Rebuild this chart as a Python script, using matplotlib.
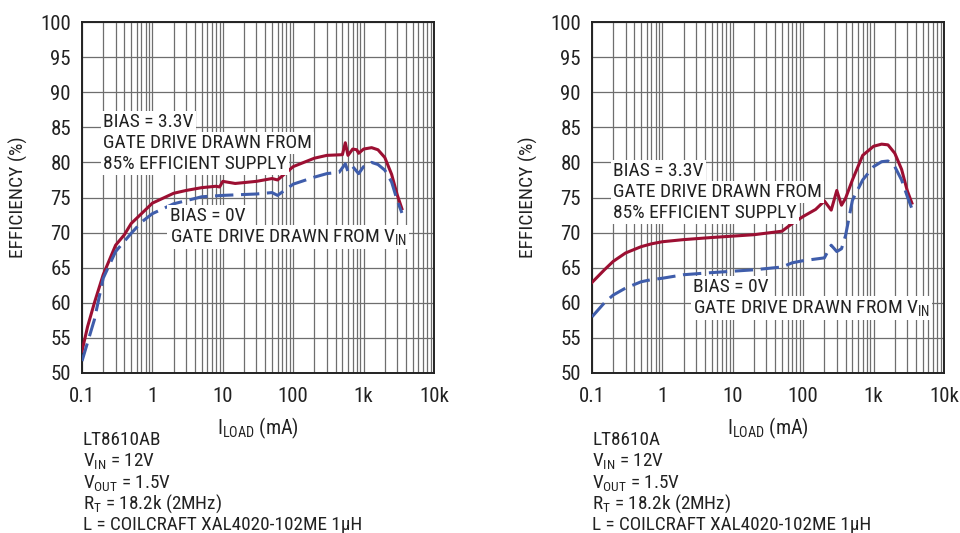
import matplotlib
matplotlib.use('Agg')
import matplotlib.pyplot as plt
from matplotlib.ticker import LogLocator, FixedLocator, NullFormatter

plt.rcParams['font.family'] = ['Roboto Condensed', 'DejaVu Sans']
plt.rcParams['font.stretch'] = 'condensed'
plt.rcParams['mathtext.default'] = 'regular'

# LT8610AB (left)
ab_red_x = [0.1, 0.12, 0.15, 0.2, 0.3, 0.4, 0.5, 0.7, 1, 2, 3, 5, 8, 9, 10, 15, 30, 50, 60,
            100, 200, 300, 500, 550, 600, 700, 800, 850, 1000, 1300, 1600, 2000, 2500, 3000, 3500]
ab_red_y = [53.1, 56.6, 60.0, 64.0, 68.2, 69.7, 71.3, 72.7, 74.2, 75.6, 76.0, 76.4, 76.6, 76.5, 77.3, 77.0, 77.3, 77.7, 77.5,
            79.4, 80.6, 81.0, 81.1, 82.8, 81.0, 81.9, 81.8, 81.3, 81.9, 82.1, 81.8, 80.7, 78.3, 75.4, 73.4]
ab_blue_x = [0.1, 0.15, 0.2, 0.3, 0.5, 0.7, 1, 2, 5, 10, 30, 50, 60,
             100, 200, 300, 450, 550, 600, 700, 850, 1000, 1300, 1600, 2000, 2500, 3000, 3500]
ab_blue_y = [51.7, 57.6, 63.5, 67.3, 69.9, 71.5, 72.7, 74.1, 75.1, 75.3, 75.5, 75.7, 75.3,
             76.9, 77.9, 78.4, 78.6, 79.8, 78.7, 79.4, 78.4, 79.4, 80.0, 79.7, 78.9, 77.2, 74.6, 72.8]

# LT8610A (right)
a_red_x = [0.1, 0.15, 0.2, 0.3, 0.5, 0.7, 1, 2, 5, 10, 20, 50, 70, 100, 150, 200, 250, 300, 350, 400,
           500, 700, 1000, 1300, 1600, 2000, 2500, 3000, 3500]
a_red_y = [62.9, 64.7, 65.9, 67.1, 68.0, 68.4, 68.7, 69.0, 69.3, 69.5, 69.7, 70.2, 71.3, 72.3, 73.3, 74.5, 73.2, 76.0, 73.9, 74.9,
           77.5, 81.0, 82.3, 82.6, 82.5, 81.3, 79.0, 76.0, 74.2]
a_blue_x = [0.1, 0.15, 0.2, 0.3, 0.5, 0.7, 1, 2, 5, 10, 20, 50, 70, 100, 200, 250, 300, 350, 400,
            500, 700, 1000, 1300, 1600, 2000, 2500, 3000, 3500]
a_blue_y = [58.0, 60.0, 61.1, 62.1, 63.0, 63.3, 63.5, 64.0, 64.3, 64.5, 64.7, 65.1, 65.7, 66.0, 66.4, 68.2, 67.3, 67.7, 69.6,
            74.6, 77.5, 79.4, 80.1, 80.2, 79.4, 77.5, 75.2, 73.4]

x_ticks = [0.1, 1, 10, 100, 1000, 10000]
x_ticklabels = ['0.1', '1', '10', '100', '1k', '10k']
y_ticks = list(range(50, 101, 5))

notes_ab = ['LT8610AB', 'V$_{IN}$ = 12V', 'V$_{OUT}$ = 1.5V', 'R$_{T}$ = 18.2k (2MHz)',
            'L = COILCRAFT XAL4020-102ME 1µH']
notes_a = ['LT8610A', 'V$_{IN}$ = 12V', 'V$_{OUT}$ = 1.5V', 'R$_{T}$ = 18.2k (2MHz)',
           'L = COILCRAFT XAL4020-102ME 1µH']

red = '#9c0f32'
blue = '#3f5dab'
grid_c = '#6e6e6e'
txt_c = '#222222'

fig = plt.figure(figsize=(9.6, 5.33), dpi=100)
ax1 = fig.add_axes([82/960, 1-373/533, 352/960, 351/533])
ax2 = fig.add_axes([592/960, 1-373/533, 352/960, 351/533])


def setup(ax):
    ax.set_xscale('log')
    ax.set_xlim(0.1, 10000)
    ax.set_ylim(50, 100)
    ax.xaxis.set_major_locator(FixedLocator(x_ticks))
    ax.xaxis.set_minor_locator(LogLocator(base=10, subs=range(2, 10), numticks=20))
    ax.xaxis.set_minor_formatter(NullFormatter())
    ax.set_xticklabels(x_ticklabels)
    ax.set_yticks(y_ticks)
    ax.grid(True, which='major', color=grid_c, lw=0.9)
    ax.grid(True, which='minor', axis='x', color=grid_c, lw=0.9)
    ax.tick_params(which='both', length=0, labelsize=15, colors=txt_c)
    ax.tick_params(axis='x', pad=10)
    ax.tick_params(axis='y', pad=8)
    for s in ax.spines.values():
        s.set_linewidth(1.4)
        s.set_color(txt_c)
    ax.set_xlabel('I$_{LOAD}$ (mA)', fontsize=14.5, color=txt_c)
    ax.set_ylabel('EFFICIENCY (%)', fontsize=14, color=txt_c)
    ax.xaxis.set_label_coords(0.5, -0.122)
    ax.yaxis.set_label_coords(-0.153, 0.5)


for ax in (ax1, ax2):
    setup(ax)

ax1.plot(ab_red_x, ab_red_y, color=red, lw=2.2, zorder=3)
ax1.plot(ab_blue_x, ab_blue_y, color=blue, lw=2.2, dashes=(6, 2.5), zorder=3)
ax2.plot(a_red_x, a_red_y, color=red, lw=2.2, zorder=3)
ax2.plot(a_blue_x, a_blue_y, color=blue, lw=2.2, dashes=(6, 2.5), zorder=3)

box = dict(facecolor='white', edgecolor='none', pad=1.5)
fs = 14
ax1.text(0.2, 85.8, 'BIAS = 3.3V', fontsize=fs, color=txt_c, bbox=box, va='center', zorder=4)
ax1.text(0.2, 82.8, 'GATE DRIVE DRAWN FROM', fontsize=fs, color=txt_c, bbox=box, va='center', zorder=4)
ax1.text(0.2, 79.8, '85% EFFICIENT SUPPLY', fontsize=fs, color=txt_c, bbox=box, va='center', zorder=4)
ax1.text(1.75, 72.4, 'BIAS = 0V', fontsize=fs, color=txt_c, bbox=box, va='center', zorder=4)
ax1.text(1.75, 69.4, 'GATE DRIVE DRAWN FROM V$_{IN}$', fontsize=fs, color=txt_c, bbox=box, va='center', zorder=4)

ax2.text(0.2, 78.8, 'BIAS = 3.3V', fontsize=fs, color=txt_c, bbox=box, va='center', zorder=4)
ax2.text(0.2, 75.8, 'GATE DRIVE DRAWN FROM', fontsize=fs, color=txt_c, bbox=box, va='center', zorder=4)
ax2.text(0.2, 72.8, '85% EFFICIENT SUPPLY', fontsize=fs, color=txt_c, bbox=box, va='center', zorder=4)
ax2.text(2.72, 62.3, 'BIAS = 0V', fontsize=fs, color=txt_c, bbox=box, va='center', zorder=4)
ax2.text(2.72, 59.3, 'GATE DRIVE DRAWN FROM V$_{IN}$', fontsize=fs, color=txt_c, bbox=box, va='center', zorder=4)

for x0, notes in ((83/960, notes_ab), (592/960, notes_a)):
    for i, t in enumerate(notes):
        fig.text(x0, 1 - (440 + i*21.3)/533, t, fontsize=13.8, color=txt_c, va='center')

fig.savefig('out.png', dpi=100)
